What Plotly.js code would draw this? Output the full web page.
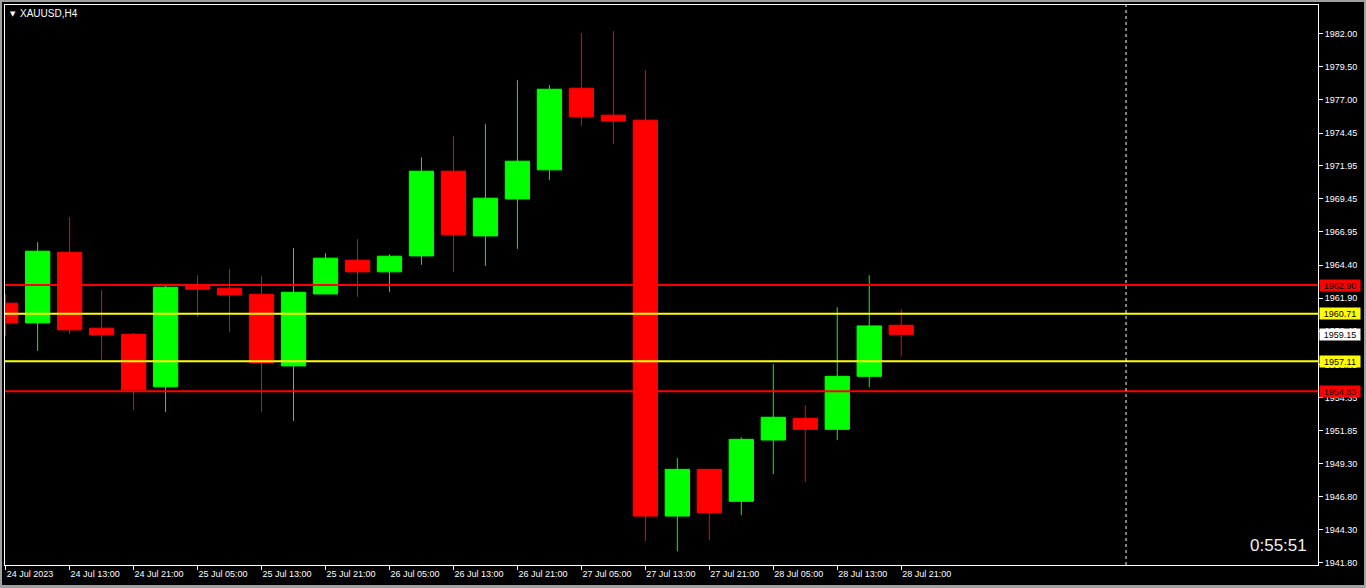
<!DOCTYPE html>
<html>
<head>
<meta charset="utf-8">
<script src="https://cdn.plot.ly/plotly-3.0.1.min.js"></script>
<style>
  html, body { margin: 0; padding: 0; background: #000; width: 1366px; height: 588px; overflow: hidden; }
  #chart { position: absolute; left: 0; top: 0; width: 1366px; height: 588px; }
  #frame { position: absolute; left: 0; top: 0; width: 1366px; height: 588px; box-sizing: border-box;
           border: 2px solid #a0a0a0; border-bottom-width: 3px; pointer-events: none; }
</style>
</head>
<body>
<div id="chart"></div>
<div id="frame"></div>
<script>
// H4 candles, 24 Jul 2023 05:00 .. 28 Jul 2023 21:00
const times = [
  "24 Jul 05:00","24 Jul 09:00","24 Jul 13:00","24 Jul 17:00","24 Jul 21:00","25 Jul 01:00",
  "25 Jul 05:00","25 Jul 09:00","25 Jul 13:00","25 Jul 17:00","25 Jul 21:00","26 Jul 01:00",
  "26 Jul 05:00","26 Jul 09:00","26 Jul 13:00","26 Jul 17:00","26 Jul 21:00","27 Jul 01:00",
  "27 Jul 05:00","27 Jul 09:00","27 Jul 13:00","27 Jul 17:00","27 Jul 21:00","28 Jul 01:00",
  "28 Jul 05:00","28 Jul 09:00","28 Jul 13:00","28 Jul 17:00","28 Jul 21:00"
];
const opens  = [1961.52,1960.02,1965.39,1959.62,1959.16,1955.16,1962.81,1962.66,1962.20,1956.75,
                1962.22,1964.79,1963.90,1965.11,1971.55,1966.63,1969.44,1971.65,1977.86,1975.81,
                1975.43,1945.34,1948.89,1946.46,1951.12,1952.77,1951.93,1955.96,1959.84];
const highs  = [1962.20,1966.15,1968.05,1962.51,1959.24,1962.89,1963.65,1964.10,1963.57,1965.70,
                1965.32,1966.38,1965.24,1972.61,1974.21,1975.12,1978.47,1978.09,1982.04,1982.19,
                1979.23,1949.74,1948.89,1951.33,1956.88,1953.77,1961.22,1963.65,1961.07];
const lows   = [1959.03,1957.89,1959.18,1957.21,1953.41,1953.26,1960.48,1959.34,1953.26,1952.57,
                1962.22,1962.00,1962.38,1964.43,1963.90,1964.35,1965.64,1970.89,1974.99,1973.62,
                1943.45,1942.67,1943.53,1945.41,1948.53,1947.93,1951.12,1955.13,1957.48];
const closes = [1960.02,1965.47,1959.49,1959.11,1954.93,1962.73,1962.58,1962.15,1956.98,1962.35,
                1964.94,1963.90,1965.09,1971.55,1966.71,1969.50,1972.31,1977.78,1975.68,1975.36,
                1945.34,1948.89,1945.60,1951.17,1952.85,1951.93,1955.96,1959.79,1959.15];

const xTickLabels = ["24 Jul 2023","24 Jul 13:00","24 Jul 21:00","25 Jul 05:00","25 Jul 13:00",
                     "25 Jul 21:00","26 Jul 05:00","26 Jul 13:00","26 Jul 21:00","27 Jul 05:00",
                     "27 Jul 13:00","27 Jul 21:00","28 Jul 05:00","28 Jul 13:00","28 Jul 21:00"];
const yTicks = [1982.00,1979.50,1977.00,1974.45,1971.95,1969.45,1966.95,1964.40,1961.90,
                1959.40,1956.85,1954.35,1951.85,1949.30,1946.80,1944.30,1941.80];

const levelValues = [1962.90, 1960.71, 1957.11, 1954.83];
const levelColors = ["#ff0000", "#ffff00", "#ffff00", "#ff0000"];

const symbolTitle = "XAUUSD,H4";
const timerText = "0:55:51";

// ---- build ----
const xIdx = times.map((_, i) => i);
const xTickVals = xTickLabels.map((_, i) => i * 2);
const lastPrice = closes[closes.length - 1];

const FONT = "Liberation Sans, Arial, sans-serif";

const trace = {
  type: "candlestick",
  x: xIdx, open: opens, high: highs, low: lows, close: closes,
  text: times,
  increasing: { line: { color: "#00ff00", width: 1 }, fillcolor: "#00ff00" },
  decreasing: { line: { color: "#ff0000", width: 1 }, fillcolor: "#ff0000" },
  whiskerwidth: 0,
  hoverinfo: "skip",
  showlegend: false
};

const shapes = levelValues.map((v, i) => ({
  type: "line", xref: "paper", x0: 0, x1: 1, yref: "y", y0: v, y1: v,
  line: { color: levelColors[i], width: 2 }, layer: "above"
}));
// chart-shift separator (dashed vertical)
shapes.push({
  type: "line", xref: "paper", x0: 0.8538, x1: 0.8538, yref: "paper", y0: 0, y1: 1,
  line: { color: "#ffffff", width: 1, dash: "3px,3px" }, layer: "above"
});

const annotations = [];
levelValues.forEach((v, i) => {
  annotations.push({
    xref: "paper", x: 1, xanchor: "left", xshift: 1,
    yref: "y", y: v, yanchor: "middle",
    text: v.toFixed(2), showarrow: false,
    bgcolor: levelColors[i], width: 40, height: 11, borderpad: 0,
    font: { family: FONT, size: 9, color: "#000000" }
  });
});
annotations.push({
  xref: "paper", x: 1, xanchor: "left", xshift: 1,
  yref: "y", y: lastPrice, yanchor: "middle",
  text: lastPrice.toFixed(2), showarrow: false,
  bgcolor: "#ffffff", width: 40, height: 11, borderpad: 0,
  font: { family: FONT, size: 9, color: "#000000" }
});
annotations.push({
  xref: "paper", x: 0, xanchor: "left", xshift: 3,
  yref: "paper", y: 1, yanchor: "top", yshift: -3,
  text: "▼", showarrow: false,
  font: { family: "DejaVu Sans, sans-serif", size: 7, color: "#ffffff" }
});
annotations.push({
  xref: "paper", x: 0, xanchor: "left", xshift: 13,
  yref: "paper", y: 1, yanchor: "top", yshift: -1,
  text: symbolTitle, showarrow: false,
  font: { family: FONT, size: 10, color: "#ffffff" }
});
annotations.push({
  xref: "paper", x: 1, xanchor: "right", xshift: -9,
  yref: "paper", y: 0, yanchor: "bottom", yshift: 8,
  text: timerText, showarrow: false,
  font: { family: FONT, size: 17, color: "#f0f0f0" }
});

const layout = {
  width: 1366, height: 588,
  margin: { l: 5, r: 48, t: 5, b: 23 },
  paper_bgcolor: "#000000", plot_bgcolor: "#000000",
  boxgap: 0.24, boxgroupgap: 0,
  showlegend: false,
  dragmode: false,
  xaxis: {
    type: "linear",
    range: [-0.02, 41.03],
    rangeslider: { visible: false },
    showgrid: false, zeroline: false,
    showline: true, linecolor: "#ffffff", linewidth: 1, mirror: true,
    ticks: "outside", ticklen: 4, tickcolor: "#ffffff", tickwidth: 1,
    tickmode: "array", tickvals: xTickVals, ticktext: xTickLabels,
    ticklabelposition: "outside right",
    tickfont: { family: FONT, size: 9, color: "#ffffff" }
  },
  yaxis: {
    side: "right",
    range: [1941.62, 1984.18],
    showgrid: false, zeroline: false,
    showline: true, linecolor: "#ffffff", linewidth: 1, mirror: true,
    ticks: "outside", ticklen: 4, tickcolor: "#ffffff", tickwidth: 1,
    tickmode: "array", tickvals: yTicks, ticktext: yTicks.map(v => v.toFixed(2)),
    tickfont: { family: FONT, size: 9, color: "#ffffff" }
  },
  shapes: shapes,
  annotations: annotations
};

Plotly.newPlot("chart", [trace], layout, { displayModeBar: false, staticPlot: true });
</script>
</body>
</html>
